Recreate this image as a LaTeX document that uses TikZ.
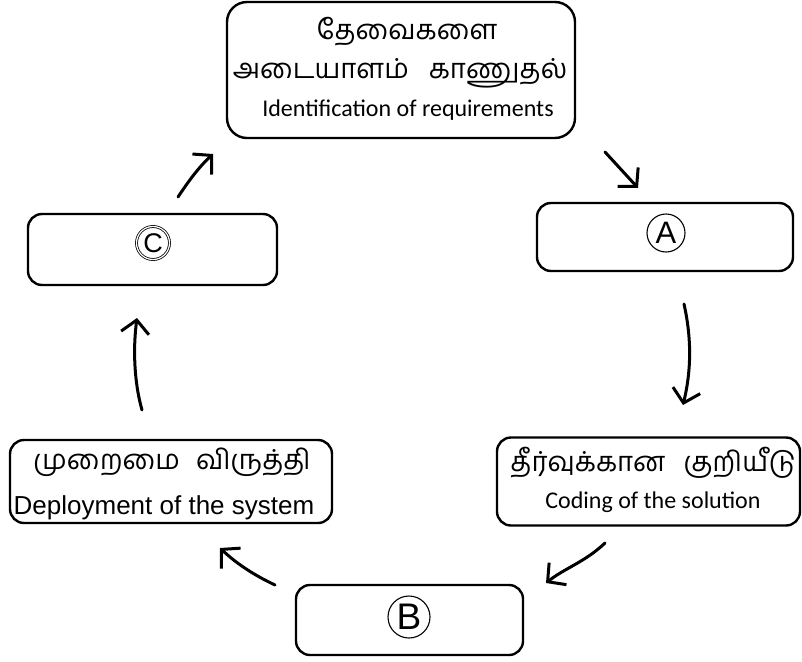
\documentclass[tikz,border=0pt]{standalone}
\usepackage{fontspec}
\usetikzlibrary{arrows.meta}
\newfontfamily\tamilfont[Script=Tamil]{Hind Madurai}
\newfontfamily\calfont{Carlito}
\newfontfamily\arfont{Liberation Sans}
\tikzset{
  box/.style={draw, line width=2.4pt, rounded corners=14pt, inner sep=0pt},
  tam/.style={inner sep=0pt, font=\tamilfont\fontsize{27.5}{29}\selectfont},
  eng/.style={inner sep=0pt, font=\calfont\fontsize{24}{26}\selectfont},
  arl/.style={inner sep=0pt, font=\arfont\fontsize{26}{28}\selectfont},
  circ/.style={circle, draw, line width=1.1pt, inner sep=0pt},
  arr/.style={line width=3pt, line cap=round, -{Straight Barb[length=13pt,width=28pt,line width=3pt]}}
}
\begin{document}
\begin{tikzpicture}[x=1pt,y=-1pt]
\useasboundingbox (0,0) rectangle (802,661);
% boxes
\node[box, minimum width=348pt, minimum height=136pt, rounded corners=20pt] (top) at (401,70) {};
\node[box, minimum width=256pt, minimum height=68pt] (boxA) at (665,237) {};
\node[box, minimum width=249pt, minimum height=71pt] (boxC) at (152.5,249.5) {};
\node[box, minimum width=322pt, minimum height=83pt] (dep) at (171,481.5) {};
\node[box, minimum width=303pt, minimum height=88pt] (cod) at (648.5,481.5) {};
\node[box, minimum width=227pt, minimum height=70pt] (boxB) at (409.5,620) {};
% texts
\node[tam] (t1) at (407,32) {தேவைகளை};
\node[tam] (t2) at (400,73) {அடையாளம்\hspace{20pt}காணுதல்};
\node[eng] (t3) at (408,110) {Identification of requirements};
\node[circ, minimum size=38pt, font=\arfont\fontsize{31}{31}\selectfont] (la) at (666,233) {A};
\node[circ, double, double distance=1.2pt, line width=0.8pt, minimum size=33pt, font=\arfont\fontsize{27}{27}\selectfont] (lc) at (153,243) {C};
\node[circ, minimum size=42pt, font=\arfont\fontsize{37}{37}\selectfont] (lb) at (409,617) {B};
\node[tam] (c1) at (653,463) {தீர்வுக்கான\hspace{18pt}குறியீடு};
\node[eng] (c2) at (653,502) {Coding of the solution};
\node[tam] (d1) at (172,462) {முறைமை\hspace{16pt}விருத்தி};
\node[arl] (d2) at (164,508) {Deployment of the system};
% arrow end points
\coordinate (a1s) at (605,152); \coordinate (a1e) at (638,188);
\coordinate (a2s) at (684,304); \coordinate (a2e) at (683,405);
\coordinate (a3s) at (605,543); \coordinate (a3e) at (546,583);
\coordinate (a4s) at (275,585); \coordinate (a4e) at (220,548);
\coordinate (a5s) at (142,410); \coordinate (a5e) at (137,318);
\coordinate (a6s) at (178,197); \coordinate (a6e) at (213,154);
\draw[arr] (a1s) -- (a1e);
\draw[arr] (a2s) .. controls (692,340) and (691,372) .. (a2e);
\draw[arr] (a3s) .. controls (585,562) and (565,568) .. (a3e);
\draw[arr] (a4s) .. controls (256,576) and (238,565) .. (a4e);
\draw[arr] (a5s) .. controls (134,382) and (133,348) .. (a5e);
\draw[arr] (a6s) .. controls (188,182) and (198,168) .. (a6e);
\end{tikzpicture}
\end{document}
